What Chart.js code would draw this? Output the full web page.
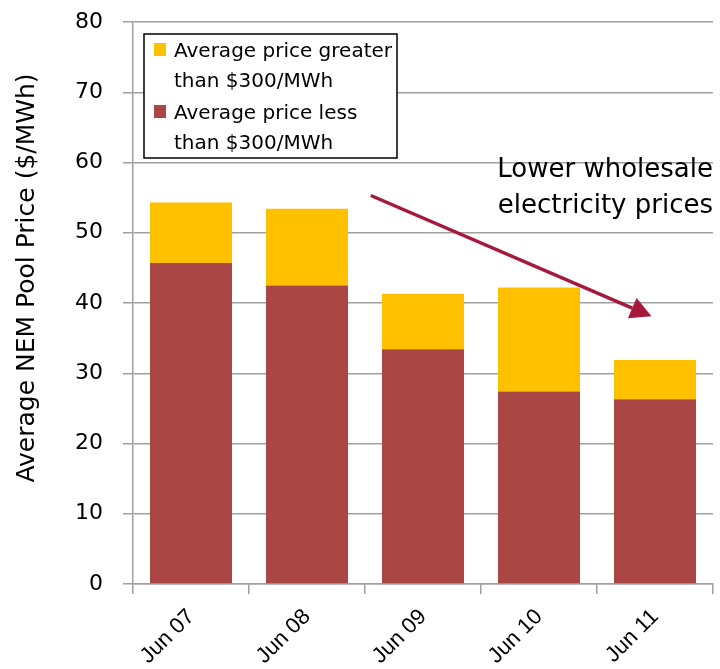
<!DOCTYPE html>
<html>
<head>
<meta charset="utf-8">
<script src="https://cdn.jsdelivr.net/npm/chart.js@4.4.0/dist/chart.umd.min.js"></script>
<style>
    html, body { margin: 0; padding: 0; background: #fff; }
    #wrap { width: 720px; height: 669px; }
</style>
</head>
<body>
<div id="wrap"><canvas id="graficoPreco"></canvas></div>
<script>
const categories = ['Jun 07', 'Jun 08', 'Jun 09', 'Jun 10', 'Jun 11'];
const priceBelow300 = [45.7, 42.5, 33.4, 27.4, 26.3];
const priceAbove300 = [8.6, 10.9, 7.9, 14.8, 5.6];
const labelAbove300 = ['Average price greater', 'than $300/MWh'];
const labelBelow300 = ['Average price less', 'than $300/MWh'];
const yAxisTitle = 'Average NEM Pool Price ($/MWh)';
const noteLines = ['Lower wholesale', 'electricity prices'];

const FONT = "'DejaVu Sans', Tahoma, sans-serif";
const GRID = '#a0a0a0';

// legenda em caixa, titulo do eixo y, seta e texto
const extras = {
    id: 'extras',
    afterDatasetsDraw(chart, args, opts) {
        const { ctx, chartArea: a, scales: { x, y } } = chart;
        ctx.save();

        // titulo do eixo y
        ctx.save();
        ctx.translate(27, (a.top + a.bottom) / 2 - 25);
        ctx.rotate(-Math.PI / 2);
        ctx.font = '25px ' + FONT;
        ctx.fillStyle = '#000';
        ctx.textAlign = 'center';
        ctx.textBaseline = 'middle';
        ctx.fillText(yAxisTitle, 0, 0);
        ctx.restore();

        // legenda
        const bx = a.left + 11, by = a.top + 12, bw = 253, bh = 124;
        ctx.fillStyle = '#fff';
        ctx.fillRect(bx, by, bw, bh);
        ctx.strokeStyle = '#000';
        ctx.lineWidth = 1.5;
        ctx.strokeRect(bx, by, bw, bh);
        ctx.font = '20px ' + FONT;
        ctx.textBaseline = 'middle';
        ctx.textAlign = 'left';
        const itens = [chart.data.datasets[1], chart.data.datasets[0]];
        itens.forEach((ds, i) => {
            const top = by + 18 + i * 62;
            ctx.fillStyle = ds.backgroundColor;
            ctx.fillRect(bx + 10, top - 9, 12, 13);
            ctx.fillStyle = '#000';
            ds.label.forEach((linha, j) => ctx.fillText(linha, bx + 30, top + j * 30));
        });

        // seta
        const x0 = x.getPixelForValue(opts.arrowFrom[0]), y0 = y.getPixelForValue(opts.arrowFrom[1]);
        const x1 = x.getPixelForValue(opts.arrowTo[0]), y1 = y.getPixelForValue(opts.arrowTo[1]);
        const ang = Math.atan2(y1 - y0, x1 - x0);
        const head = 21, half = 11;
        const bxh = x1 - head * Math.cos(ang), byh = y1 - head * Math.sin(ang);
        ctx.strokeStyle = opts.arrowColor;
        ctx.fillStyle = opts.arrowColor;
        ctx.lineWidth = 3.5;
        ctx.beginPath();
        ctx.moveTo(x0, y0);
        ctx.lineTo(bxh, byh);
        ctx.stroke();
        ctx.beginPath();
        ctx.moveTo(x1, y1);
        ctx.lineTo(bxh + half * Math.sin(ang), byh - half * Math.cos(ang));
        ctx.lineTo(bxh - half * Math.sin(ang), byh + half * Math.cos(ang));
        ctx.closePath();
        ctx.fill();

        // texto da seta
        ctx.font = '26px ' + FONT;
        ctx.fillStyle = '#000';
        ctx.textAlign = 'right';
        noteLines.forEach((linha, i) => ctx.fillText(linha, a.right, a.top + 148 + i * 36));

        ctx.restore();
    }
};

new Chart(document.getElementById('graficoPreco'), {
    type: 'bar',
    data: {
        labels: categories,
        datasets: [{
            label: labelBelow300,
            data: priceBelow300,
            backgroundColor: '#aa4643'
        }, {
            label: labelAbove300,
            data: priceAbove300,
            backgroundColor: '#ffc000'
        }]
    },
    options: {
        responsive: true,
        maintainAspectRatio: false,
        animation: false,
        barPercentage: 0.707,
        categoryPercentage: 1,
        layout: { padding: { top: 22, right: 7, left: 0, bottom: 0 } },
        plugins: {
            legend: { display: false },
            tooltip: { enabled: false },
            extras: { arrowFrom: [1.55, 55.3], arrowTo: [3.97, 38.1], arrowColor: '#a6193c' }
        },
        scales: {
            x: {
                stacked: true,
                afterFit: s => { s.height = 85; },
                border: { color: GRID, width: 1.5 },
                grid: { drawOnChartArea: false, drawTicks: true, tickLength: 10, color: GRID, lineWidth: 1.5 },
                ticks: {
                    color: '#000',
                    font: { family: "'Liberation Sans', Arial, sans-serif", size: 22 },
                    minRotation: 45,
                    maxRotation: 45,
                    padding: 10
                }
            },
            y: {
                stacked: true,
                min: 0,
                max: 80,
                afterFit: s => { s.width = 133; s.paddingTop = 0; s.paddingBottom = 0; },
                border: { color: GRID, width: 1.5 },
                grid: { color: GRID, lineWidth: 1.5, tickLength: 10 },
                ticks: {
                    stepSize: 10,
                    color: '#000',
                    font: { family: FONT, size: 22 },
                    padding: 20
                }
            }
        }
    },
    plugins: [extras]
});
</script>
</body>
</html>
